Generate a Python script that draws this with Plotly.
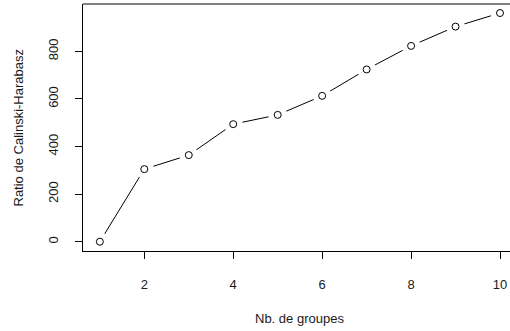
import plotly.graph_objects as go

n_groups = [1, 2, 3, 4, 5, 6, 7, 8, 9, 10]
ch_ratio = [0, 305, 364, 494, 533, 613, 724, 823, 904, 961]
x_ticks = [2, 4, 6, 8, 10]
y_ticks = [0, 200, 400, 600, 800]

FONT = "Liberation Sans, Arial, sans-serif"
W, H = 510, 331
ML, MT, MB = 83, 4, 80

fig = go.Figure()
fig.add_trace(go.Scatter(x=n_groups, y=ch_ratio, mode="lines",
                         line=dict(color="black", width=1), hoverinfo="skip"))
# white discs to create the gaps around points (R type="b")
fig.add_trace(go.Scatter(x=n_groups, y=ch_ratio, mode="markers",
                         marker=dict(size=19, color="white", opacity=1, line=dict(width=0)),
                         hoverinfo="skip"))
fig.add_trace(go.Scatter(x=n_groups, y=ch_ratio, mode="markers",
                         marker=dict(symbol="circle-open", size=7, color="black",
                                     line=dict(width=1, color="black"))))

fig.update_layout(
    width=W, height=H,
    margin=dict(l=ML, r=0, t=MT, b=MB, pad=0, autoexpand=False),
    paper_bgcolor="white", plot_bgcolor="white",
    showlegend=False,
    font=dict(family=FONT, size=12, color="#1a1a1a"),
)
fig.update_xaxes(
    range=[0.621, 10.225], tickvals=x_ticks, ticktext=[str(v) for v in x_ticks],
    showgrid=False, zeroline=False, automargin=False,
    showline=True, linecolor="black", linewidth=1,
    ticks="outside", ticklen=7, tickcolor="black", tickwidth=1,
    ticklabelstandoff=14,
    tickfont=dict(family=FONT, size=13, color="#1a1a1a"),
)
fig.update_yaxes(
    range=[-39, 999], tickvals=y_ticks, ticktext=[str(v) for v in y_ticks],
    showgrid=False, zeroline=False, automargin=False,
    showline=True, linecolor="black", linewidth=1,
    ticks="outside", ticklen=7, tickcolor="black", tickwidth=1,
    tickangle=-90, ticklabelstandoff=12,
    tickfont=dict(family=FONT, size=13, color="#1a1a1a"),
)
# top border of the box
fig.add_shape(type="line", xref="paper", yref="paper", x0=0, x1=1, y0=1, y1=1,
              line=dict(color="black", width=1))

fig.add_annotation(text="Nb. de groupes", xref="x", yref="paper", x=5.5, y=0,
                   yshift=-(318 - (H - MB)), showarrow=False, yanchor="middle",
                   font=dict(family=FONT, size=13, color="#1a1a1a"))
fig.add_annotation(text="Ratio de Calinski-Harabasz", xref="paper", yref="paper",
                   x=0, xshift=-(ML - 18), y=0.5, textangle=-90, showarrow=False,
                   xanchor="center", font=dict(family=FONT, size=13, color="#1a1a1a"))

fig.write_html("out.html", config={"displayModeBar": False},
               post_script="document.body.style.margin='0';document.body.style.overflow='hidden';")
